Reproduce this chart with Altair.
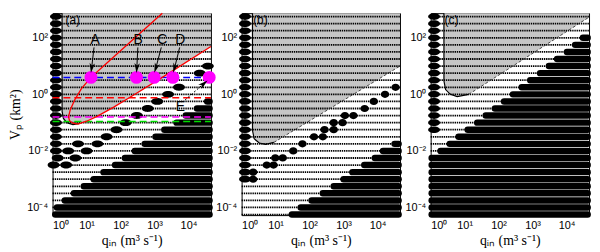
import altair as alt
import pandas as pd

# ---------------- data (log10 values) ----------------
ROWS = [-4.25, -4.0, -3.75, -3.5, -3.25, -3.0, -2.75, -2.5, -2.25, -2.0,
        -1.75, -1.5, -1.25, -1.0, -0.75, -0.5, -0.25, 0.0, 0.25, 0.5,
        0.75, 1.0, 1.25, 1.5, 1.75, 2.0, 2.25, 2.5, 2.75]
X_LO, X_HI = 0.0, 4.66
Y_LO, Y_HI = -4.27, 2.87
BAND_END = 4.62
LEFT_X = 0.1
X_TICKS = [0, 1, 2, 3, 4]
Y_TICKS = [-4, -2, 0, 2]

# panel (a)
A_BAND_ROWS = [-0.25, -0.5, -0.75, -1.0, -1.25, -1.5, -1.75, -2.0, -2.25,
               -2.5, -2.75, -3.0, -3.25, -3.5, -3.75, -4.0, -4.25]
A_BAND_START = [4.55, 4.25, 3.92, 3.65, 3.29, 3.03, 2.71, 2.42, 2.13,
                1.84, 1.50, 1.21, 0.92, 0.63, 0.36, 0.13, 0.08]
A_DOT_X = [4.57, 4.33, 3.72, 3.40, 3.08, 2.80, 2.48, 2.15, 1.88, 1.59,
           0.75, 1.32, 0.46, 1.00, 0.15, 0.67, 0.03, 0.40]
A_DOT_Y = [1.0, 0.75, 0.25, 0.0, -0.25, -0.5, -0.75, -1.0, -1.25, -1.5,
           -1.75, -1.75, -2.0, -2.0, -2.25, -2.25, -2.5, -2.5]
A_LEFT_ROWS = [2.75, 2.5, 2.25, 2.0, 1.75, 1.5, 1.25, 1.0, 0.75, 0.5, 0.25,
               0.0, -0.25, -0.5, -0.75, -1.0, -1.25, -1.5, -1.75, -2.0]
A_GRAY_X = [0.28, 0.281, 0.32, 0.42, 0.6, 0.8, 1.0, 1.31, 1.8, 2.28, 3.23, 4.66]
A_GRAY_Y = [2.87, -0.6, -0.85, -1.0, -1.07, -1.03, -0.93, -0.78, -0.45, -0.1, 0.6, 1.69]
A_SOLID_N = 6
A_RED_X = [3.23, 2.5, 2.0, 1.6, 1.13, 0.85, 0.65, 0.52, 0.47, 0.5, 0.6, 0.75,
           1.0, 1.31, 1.8, 2.28, 3.23, 4.66]
A_RED_Y = [2.87, 2.08, 1.54, 1.11, 0.6, 0.2, -0.2, -0.55, -0.8, -0.93, -1.02,
           -1.05, -0.95, -0.78, -0.45, -0.1, 0.6, 1.69]
H_LINE_Y = [0.6, -0.12, -0.8, -0.96]
H_LINE_COLOR = ["#0000ff", "#ff0000", "#ff00ff", "#00dd00"]
MAG_X = [1.13, 2.47, 2.99, 3.54, 4.61]
MAG_Y = [0.6, 0.6, 0.6, 0.6, 0.6]
LETTERS = ["A", "B", "C", "D", "E"]
LETTER_X = [1.25, 2.52, 3.23, 3.76, 3.76]
LETTER_Y = [1.93, 1.93, 1.93, 1.93, -0.45]
SHAFT_X1 = [1.22, 2.51, 3.20, 3.74, 3.90]
SHAFT_Y1 = [1.66, 1.66, 1.66, 1.66, -0.2]
HEAD_X = [1.15, 2.48, 3.04, 3.59, 4.45]
HEAD_Y = [0.93, 0.93, 0.93, 0.93, 0.38]
HEAD_ANGLE = [8, 4, 19, 17, 230]
HEAD_DASH = [0, 0, 0, 0, 1]

# panel (b)
B_BAND_ROWS = [-1.75, -2.0, -2.25, -2.5, -2.75, -3.0, -3.25, -3.5, -3.75, -4.0, -4.25]
B_BAND_START = [4.50, 4.16, 3.92, 3.61, 3.26, 3.00, 2.71, 2.39, 2.06, 1.74, 1.48]
B_DOT_X = [4.53, 4.22, 3.89, 3.62, 3.04, 3.29, 2.71, 2.97, 2.44, 2.71, 2.13,
           2.39, 1.79, 1.52, 0.99, 1.21, 0.74, 0.94, 0.34, 0.34]
B_DOT_Y = [0.25, 0.0, -0.25, -0.5, -0.75, -0.75, -1.0, -1.0, -1.25, -1.25, -1.5,
           -1.5, -1.75, -2.0, -2.25, -2.25, -2.5, -2.5, -2.75, -3.0]
B_LEFT_ROWS = [2.75, 2.5, 2.25, 2.0, 1.75, 1.5, 1.25, 1.0, 0.75, 0.5, 0.25,
               0.0, -0.25, -0.5, -0.75, -1.0, -1.25, -1.5, -1.75, -2.0,
               -2.25, -2.5, -2.75, -3.0]
B_GRAY_X = [0.32, 0.321, 0.37, 0.52, 0.71, 0.95, 4.66]
B_GRAY_Y = [2.87, -1.28, -1.57, -1.72, -1.77, -1.70, 1.0]
B_SOLID_N = 6

# panel (c)
C_BAND_ROWS = [2.0, 1.75, 1.5, 1.25, 1.0, 0.75, 0.5, 0.25, 0.0, -0.25, -0.5,
               -0.75, -1.0, -1.25, -1.5, -1.75, -2.0, -2.25, -2.5, -2.75,
               -3.0, -3.25, -3.5, -3.75, -4.0, -4.25]
C_BAND_START = [4.48, 4.25, 4.01, 3.72, 3.48, 3.22, 2.93, 2.68, 2.42, 2.16, 1.89,
                1.62, 1.37, 1.09, 0.82, 0.56, 0.29, 0.03, 0.03, 0.03,
                0.03, 0.03, 0.03, 0.03, 0.03, 0.03]
C_LEFT_ROWS = [2.75, 2.5, 2.25, 2.0, 1.75, 1.5, 1.25, 1.0, 0.75, 0.5, 0.25,
               0.0, -0.25, -0.5, -0.75, -1.0, -1.25]
C_GRAY_X = [0.39, 0.391, 0.44, 0.58, 0.78, 1.12, 4.66]
C_GRAY_Y = [2.87, 0.47, 0.17, 0.0, -0.08, 0.0, 2.73]
C_SOLID_N = 6

PANEL_LABEL_X = [0.38, 0.34, 0.41]
PANEL_LABEL_Y = 2.63

# ---------------- helpers ----------------
P = lambda v: 10 ** v
SUP = str.maketrans("0123456789-", "⁰¹²³⁴⁵⁶⁷⁸⁹⁻")


def label_expr(exps):
    expr = "'10" + str(exps[-1]).translate(SUP) + "'"
    for e in reversed(exps[:-1]):
        expr = f"datum.value < {10 ** (e + 0.5)} ? '10{str(e).translate(SUP)}' : ({expr})"
    return expr


def ellipse_path(k):
    c = 0.5523
    return (f"M-1,0C-1,{-c*k:.3f},{-c:.3f},{-k:.3f},0,{-k:.3f}"
            f"C{c:.3f},{-k:.3f},1,{-c*k:.3f},1,0"
            f"C1,{c*k:.3f},{c:.3f},{k:.3f},0,{k:.3f}"
            f"C{-c:.3f},{k:.3f},-1,{c*k:.3f},-1,0Z")


ARROW_PATH = "M0,1L-0.55,-1L0,-0.45L0.55,-1Z"
XS = alt.Scale(type="log", domain=[P(X_LO), P(X_HI)], nice=False)
YS = alt.Scale(type="log", domain=[P(Y_LO), P(Y_HI)], nice=False)
XAX = alt.Axis(values=[P(e) for e in X_TICKS], labelExpr=label_expr(X_TICKS),
               title="qᵢₙ (m³ s⁻¹)", ticks=False, domain=False, grid=False,
               labelPadding=5, titlePadding=3)


def yaxis(title):
    kw = dict(values=[P(e) for e in Y_TICKS], labelExpr=label_expr(Y_TICKS),
              ticks=False, domain=False, grid=False, labelPadding=5, titlePadding=4)
    if title:
        return alt.Axis(title=title, **kw)
    return alt.Axis(title=None, **kw)


def make_panel(letter_i, band_rows, band_start, dot_x, dot_y, dot_w, dot_k,
               left_rows, gray_x, gray_y, solid_n, ytitle, extra_layers):
    YAX = yaxis(ytitle)
    X = lambda f="x": alt.X(f"{f}:Q", scale=XS, axis=XAX)
    Y = lambda f="y": alt.Y(f"{f}:Q", scale=YS, axis=YAX)

    gray = pd.DataFrame({"x": [P(v) for v in gray_x], "y": [P(v) for v in gray_y],
                         "top": [P(Y_HI)] * len(gray_x)})
    rows = pd.DataFrame({"x": [P(X_LO)] * len(ROWS), "x2": [P(X_HI)] * len(ROWS),
                         "y": [P(v) for v in ROWS]})
    bands = pd.DataFrame({"x": [P(v) for v in band_start],
                          "x2": [P(BAND_END)] * len(band_rows),
                          "y": [P(v) for v in band_rows]})
    dots = pd.DataFrame({"x": [P(v) for v in dot_x], "y": [P(v) for v in dot_y]})
    left = pd.DataFrame({"x": [P(LEFT_X)] * len(left_rows), "y": [P(v) for v in left_rows]})
    solid = pd.DataFrame({"x": [P(v) for v in gray_x[:solid_n]],
                          "y": [P(v) for v in gray_y[:solid_n]],
                          "o": list(range(solid_n))})
    diag = pd.DataFrame({"x": [P(v) for v in gray_x[solid_n - 1:]],
                         "y": [P(v) for v in gray_y[solid_n - 1:]],
                         "o": list(range(len(gray_x) - solid_n + 1))})
    lab = pd.DataFrame({"x": [P(PANEL_LABEL_X[letter_i])], "y": [P(PANEL_LABEL_Y)],
                        "t": ["(" + "abc"[letter_i] + ")"]})

    layers = [
        alt.Chart(gray).mark_area(color="#c6c6c6").encode(x=X(), y=Y(), y2="top:Q"),
        alt.Chart(rows).mark_rule(color="black", strokeWidth=1.8, strokeDash=[1.4, 0.8]).encode(
            x=X(), x2="x2:Q", y=Y()),
        alt.Chart(bands).mark_rule(color="black", strokeWidth=6.5, strokeCap="round").encode(
            x=X(), x2="x2:Q", y=Y()),
        alt.Chart(left).mark_point(shape=ellipse_path(0.56), size=144, filled=True,
                                   color="black", opacity=1, strokeWidth=0).encode(x=X(), y=Y()),
        alt.Chart(dots).mark_point(shape=ellipse_path(dot_k), size=dot_w * dot_w, filled=True,
                                   color="black", opacity=1, strokeWidth=0).encode(x=X(), y=Y()),
        alt.Chart(solid).mark_line(color="black", strokeWidth=1.2).encode(
            x=X(), y=Y(), order="o:Q"),
    ]
    if letter_i > 0:
        layers.append(alt.Chart(diag).mark_line(color="#333333", strokeWidth=0.9,
                                                strokeDash=[3, 2]).encode(x=X(), y=Y(), order="o:Q"))
    layers += [f(X, Y) for f in extra_layers]
    layers.append(alt.Chart(lab).mark_text(align="left", baseline="middle", fontSize=12,
                                           font="Liberation Sans", color="black").encode(
        x=X(), y=Y(), text="t:N"))
    return alt.layer(*layers).properties(width=160, height=204)


# ---------------- panel (a) extras ----------------
def red_curve(X, Y):
    d = pd.DataFrame({"x": [P(v) for v in A_RED_X], "y": [P(v) for v in A_RED_Y],
                      "o": list(range(len(A_RED_X)))})
    return alt.Chart(d).mark_line(color="#ff0000", strokeWidth=1.3).encode(x=X(), y=Y(), order="o:Q")


def h_lines(X, Y):
    d = pd.DataFrame({"x": [P(X_LO)] * 4, "x2": [P(X_HI)] * 4,
                      "y": [P(v) for v in H_LINE_Y], "c": H_LINE_COLOR})
    return alt.Chart(d).mark_rule(strokeWidth=1.5, strokeDash=[7, 4]).encode(
        x=X(), x2="x2:Q", y=Y(), color=alt.Color("c:N", scale=None))


def magenta(X, Y):
    d = pd.DataFrame({"x": [P(v) for v in MAG_X], "y": [P(v) for v in MAG_Y]})
    return alt.Chart(d).mark_point(shape="circle", size=170, filled=True, color="#ff00ff",
                                   opacity=1).encode(x=X(), y=Y())


def shafts(X, Y):
    d = pd.DataFrame({"x": [P(v) for v in SHAFT_X1], "y": [P(v) for v in SHAFT_Y1],
                      "x2": [P(v) for v in HEAD_X], "y2": [P(v) for v in HEAD_Y],
                      "dash": HEAD_DASH})
    solid = alt.Chart(d).transform_filter("datum.dash == 0").mark_rule(
        color="black", strokeWidth=1).encode(x=X(), y=Y(), x2="x2:Q", y2="y2:Q")
    dashed = alt.Chart(d).transform_filter("datum.dash == 1").mark_rule(
        color="black", strokeWidth=1, strokeDash=[2, 2]).encode(x=X(), y=Y(), x2="x2:Q", y2="y2:Q")
    return solid + dashed


def heads(X, Y):
    d = pd.DataFrame({"x": [P(v) for v in HEAD_X], "y": [P(v) for v in HEAD_Y],
                      "a": HEAD_ANGLE})
    return alt.Chart(d).mark_point(shape=ARROW_PATH, size=100, filled=True, color="black",
                                   opacity=1, strokeWidth=0).encode(
        x=X(), y=Y(), angle=alt.Angle("a:Q", scale=None))


def letters(X, Y):
    d = pd.DataFrame({"x": [P(v) for v in LETTER_X], "y": [P(v) for v in LETTER_Y],
                      "t": LETTERS})
    return alt.Chart(d).mark_text(fontSize=14, font="Liberation Sans", color="black",
                                  align="center", baseline="middle").encode(
        x=X(), y=Y(), text="t:N")


pa = make_panel(0, A_BAND_ROWS, A_BAND_START, A_DOT_X, A_DOT_Y, 12, 0.58,
                A_LEFT_ROWS, A_GRAY_X, A_GRAY_Y, A_SOLID_N, "Vₚ (km²)",
                [h_lines, red_curve, magenta, shafts, heads, letters])
pb = make_panel(1, B_BAND_ROWS, B_BAND_START, B_DOT_X, B_DOT_Y, 8.5, 0.86,
                B_LEFT_ROWS, B_GRAY_X, B_GRAY_Y, B_SOLID_N, None, [])
pc = make_panel(2, C_BAND_ROWS, C_BAND_START, [], [], 8.5, 0.86,
                C_LEFT_ROWS, C_GRAY_X, C_GRAY_Y, C_SOLID_N, None, [])

chart = alt.hconcat(pa, pb, pc, spacing=31, bounds="flush").properties(
    padding={"left": 0, "top": 0, "right": 0, "bottom": 0}
).configure_view(stroke="black", strokeWidth=1).configure_axis(
    labelFont="Liberation Sans", labelFontSize=11, labelColor="black",
    titleFont="Liberation Serif", titleFontSize=14, titleFontWeight="normal",
    titleColor="black"
)

chart.save("out.html", embed_options={"renderer": "svg", "actions": False})
